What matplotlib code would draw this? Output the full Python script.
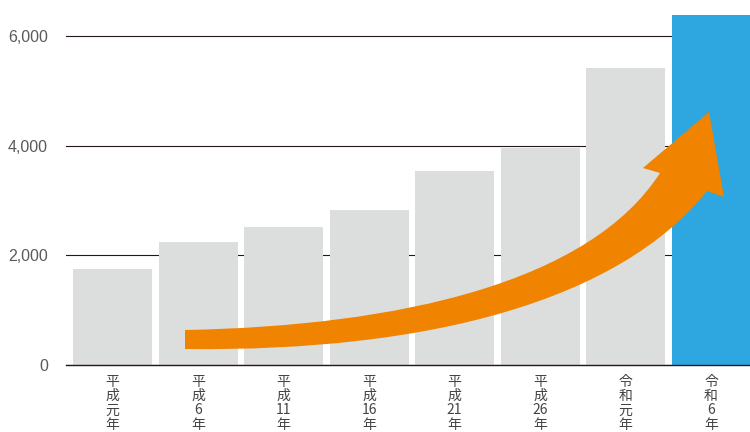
import matplotlib
matplotlib.use('Agg')
import matplotlib.pyplot as plt
from matplotlib.path import Path
from matplotlib.patches import PathPatch

plt.rcParams['font.family'] = ['Noto Sans CJK JP', 'DejaVu Sans']

# Data
years = ['平成元年', '平成6年', '平成11年', '平成16年', '平成21年', '平成26年', '令和元年', '令和6年']
values = [1750, 2250, 2520, 2830, 3545, 3965, 5425, 6390]
yticks = [0, 2000, 4000, 6000]

gray = '#dcdddd'
blue = '#2ea7e0'
orange = '#f08300'
bar_colors = [gray] * (len(values) - 1) + [blue]

W, H = 750, 432
fig = plt.figure(figsize=(W / 100, H / 100), dpi=100)
ax = fig.add_axes([66 / W, (H - 365) / H, (W - 66) / W, 350 / H])

x = list(range(len(values)))
ax.bar(x, values, width=0.924, color=bar_colors, zorder=2)
ax.set_xlim(-0.544, len(values) - 0.544)
ax.set_ylim(0, 6390)

# gridlines + y labels
ax.set_yticks(yticks)
ax.set_yticklabels([f'{v:,}' for v in yticks], fontsize=11.5, color='#5a5a5a',
                   family='Liberation Sans')
ax.tick_params(axis='y', length=0, pad=13)
ax.yaxis.grid(True, color='#231815', linewidth=0.8, zorder=0)
ax.set_axisbelow(True)

# vertical japanese x labels, one line per character (digits kept together)
def split_vertical(label):
    out, buf = [], ''
    for ch in label:
        if ch.isdigit():
            buf += ch
        else:
            if buf:
                out.append(buf)
                buf = ''
            out.append(ch)
    if buf:
        out.append(buf)
    return out

ax.set_xticks(x)
ax.set_xticklabels([])
ax.tick_params(axis='x', length=0)
for i, label in enumerate(years):
    for k, part in enumerate(split_vertical(label)):
        ax.annotate(part, xy=(i, 0), xycoords='data',
                    xytext=(0, -7 - k * 10.3), textcoords='offset points',
                    ha='center', va='top', fontsize=10, color='#444444',
                    annotation_clip=False)

for s in ['top', 'right', 'left']:
    ax.spines[s].set_visible(False)
ax.spines['bottom'].set_color('#231815')
ax.spines['bottom'].set_linewidth(1.0)
ax.spines['bottom'].set_zorder(3)

# orange curved arrow (decoration), drawn in figure pixel space
def px(pts):
    return [(a / W, 1 - b / H) for a, b in pts]

verts = px([
    (185, 330),
    (400, 326), (590, 282), (660, 173),   # top edge
    (643, 168), (709, 112), (724, 197), (707, 191),  # head
    (620, 300), (430, 352), (185, 349),   # bottom edge
    (185, 330),
])
codes = [Path.MOVETO,
         Path.CURVE4, Path.CURVE4, Path.CURVE4,
         Path.LINETO, Path.LINETO, Path.LINETO, Path.LINETO,
         Path.CURVE4, Path.CURVE4, Path.CURVE4,
         Path.CLOSEPOLY]
arrow = PathPatch(Path(verts, codes), facecolor=orange, edgecolor='none',
                  transform=fig.transFigure, zorder=5, clip_on=False)
fig.add_artist(arrow)

fig.savefig('out.png', dpi=100)
